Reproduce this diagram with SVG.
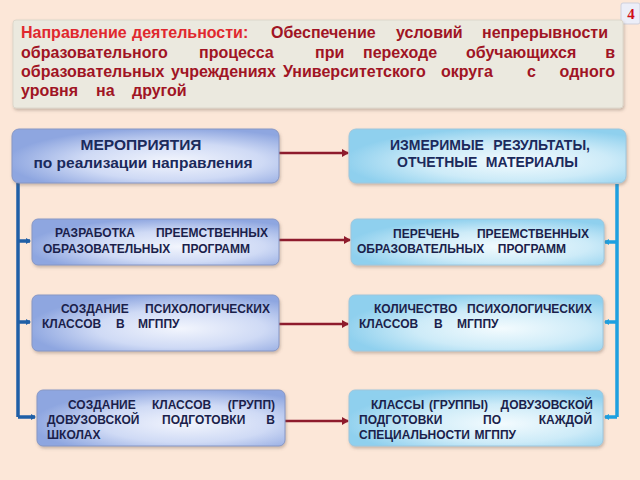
<svg xmlns="http://www.w3.org/2000/svg" width="640" height="480" viewBox="0 0 640 480">
<defs>
<radialGradient id="gL" cx="0.6" cy="0.6" r="0.62">
<stop offset="0" stop-color="#f2f5fd"/>
<stop offset="0.55" stop-color="#cfdaf5"/>
<stop offset="1" stop-color="#8ea6e0"/>
</radialGradient>
<radialGradient id="gR" cx="0.6" cy="0.6" r="0.62">
<stop offset="0" stop-color="#f3fbfe"/>
<stop offset="0.55" stop-color="#cdebf8"/>
<stop offset="1" stop-color="#8fd0ee"/>
</radialGradient>
<filter id="sh" x="-10%" y="-20%" width="120%" height="150%">
<feDropShadow dx="1" dy="2" stdDeviation="1.5" flood-color="#6a5a50" flood-opacity="0.35"/>
</filter>
<marker id="aR" markerWidth="8" markerHeight="8" refX="6" refY="4" orient="auto" markerUnits="userSpaceOnUse">
<path d="M0,0 L7,4 L0,8 Z" fill="#8e1b2c"/>
</marker>
<marker id="aB" markerWidth="6" markerHeight="6" refX="4" refY="3" orient="auto" markerUnits="userSpaceOnUse">
<path d="M0,0 L5,3 L0,6 Z" fill="#1f5fa6"/>
</marker>
<marker id="aC" markerWidth="6" markerHeight="6" refX="4" refY="3" orient="auto" markerUnits="userSpaceOnUse">
<path d="M0,0 L5,3 L0,6 Z" fill="#1ea0e0"/>
</marker>
</defs>
<style>
text{font-family:"Liberation Sans",Arial,sans-serif;font-weight:bold}
.tt{font-size:16px}
.r1{fill:#e0282e}
.r2{fill:#a01424}
.bx{font-size:12px;fill:#1b1f4b}
.hd{fill:#1b2a5c}
.bl{fill:url(#gL);stroke:#8797c4;stroke-width:1}
.br{fill:url(#gR);stroke:#9ec6dc;stroke-width:1}
.e{text-anchor:end}
.m{text-anchor:middle}
</style>
<rect width="640" height="480" fill="#fce7d8"/>

<g id="badge">
<rect x="621" y="3" width="19" height="21" rx="2" fill="#eceef8" stroke="#cfd0dc"/>
<text x="631" y="19" class="m" style="font-family:'Liberation Serif',serif" font-size="15" fill="#d01018">4</text>
</g>

<g id="title">
<rect x="13" y="20" width="610" height="88" rx="3" fill="#ebe9df" stroke="#dcd7cb" filter="url(#sh)"/>
<text class="tt" y="38"><tspan class="r1" x="21">Направление</tspan><tspan class="r1" x="132">деятельности:</tspan><tspan class="r2" x="271">Обеспечение</tspan><tspan class="r2" x="396">условий</tspan></text>
<text class="tt r2 e" x="608" y="38">непрерывности</text>
<text class="tt r2" y="58"><tspan x="21">образовательного</tspan><tspan x="199">процесса</tspan><tspan x="315">при</tspan><tspan x="363">переходе</tspan><tspan x="466">обучающихся</tspan></text>
<text class="tt r2 e" x="615" y="58">в</text>
<text class="tt r2" y="77"><tspan x="21">образовательных</tspan><tspan x="171">учреждениях</tspan><tspan x="283">Университетского</tspan><tspan x="441">округа</tspan><tspan x="527">с</tspan></text>
<text class="tt r2 e" x="615" y="77">одного</text>
<text class="tt r2" y="96"><tspan x="21">уровня</tspan><tspan x="96">на</tspan><tspan x="132">другой</tspan></text>
</g>

<g id="connectors" fill="none">
<path d="M18,183 V417 M18,241 H30 M18,322 H30 M18,417 H35" stroke="#1f5fa6" stroke-width="3.5"/>
<path d="M18,241 H30" stroke="#1f5fa6" stroke-width="2" marker-end="url(#aB)"/>
<path d="M18,322 H30" stroke="#1f5fa6" stroke-width="2" marker-end="url(#aB)"/>
<path d="M18,417 H35" stroke="#1f5fa6" stroke-width="2" marker-end="url(#aB)"/>
<path d="M617,184 V417 M617,242 H605 M617,322 H605 M617,417 H605" stroke="#1ea0e0" stroke-width="3.5"/>
<path d="M617,242 H605" stroke="#1ea0e0" stroke-width="2" marker-end="url(#aC)"/>
<path d="M617,322 H605" stroke="#1ea0e0" stroke-width="2" marker-end="url(#aC)"/>
<path d="M617,417 H605" stroke="#1ea0e0" stroke-width="2" marker-end="url(#aC)"/>
<path d="M279,153 H348" stroke="#8e1b2c" stroke-width="2.5" marker-end="url(#aR)"/>
<path d="M279,240 H350" stroke="#8e1b2c" stroke-width="2.5" marker-end="url(#aR)"/>
<path d="M279,324 H348" stroke="#8e1b2c" stroke-width="2.5" marker-end="url(#aR)"/>
<path d="M285,421 H348" stroke="#8e1b2c" stroke-width="2.5" marker-end="url(#aR)"/>
</g>

<g id="measures">
<rect class="bl" x="12" y="129" width="267" height="54" rx="7" filter="url(#sh)"/>
<text class="hd m" x="141" y="150" font-size="15.5">МЕРОПРИЯТИЯ</text>
<text class="hd m" x="143" y="168" font-size="15.5">по реализации направления</text>
</g>

<g id="results">
<rect class="br" x="349" y="129" width="277" height="54" rx="7" filter="url(#sh)"/>
<text class="hd" x="390" y="150" font-size="14">ИЗМЕРИМЫЕ</text>
<text class="hd e" x="590" y="150" font-size="14">РЕЗУЛЬТАТЫ,</text>
<text class="hd" x="397" y="167" font-size="14">ОТЧЕТНЫЕ</text>
<text class="hd e" x="578" y="167" font-size="14">МАТЕРИАЛЫ</text>
</g>

<g id="m1">
<rect class="bl" x="32" y="219" width="247" height="46" rx="6" filter="url(#sh)"/>
<text class="bx" x="55" y="237">РАЗРАБОТКА</text>
<text class="bx e" x="268" y="237">ПРЕЕМСТВЕННЫХ</text>
<text class="bx" x="43" y="253">ОБРАЗОВАТЕЛЬНЫХ</text>
<text class="bx e" x="250" y="253">ПРОГРАММ</text>
</g>

<g id="m2">
<rect class="bl" x="32" y="295" width="247" height="56" rx="6" filter="url(#sh)"/>
<text class="bx" x="61" y="313">СОЗДАНИЕ</text>
<text class="bx e" x="270" y="313">ПСИХОЛОГИЧЕСКИХ</text>
<text class="bx" x="42" y="328">КЛАССОВ</text>
<text class="bx" x="116" y="328">В</text>
<text class="bx" x="138" y="328">МГППУ</text>
</g>

<g id="m3">
<rect class="bl" x="37" y="390" width="248" height="56" rx="6" filter="url(#sh)"/>
<text class="bx" x="68" y="409">СОЗДАНИЕ</text>
<text class="bx" x="152" y="409">КЛАССОВ</text>
<text class="bx e" x="275" y="409">(ГРУПП)</text>
<text class="bx" x="47" y="424">ДОВУЗОВСКОЙ</text>
<text class="bx" x="162" y="424">ПОДГОТОВКИ</text>
<text class="bx e" x="275" y="424">В</text>
<text class="bx" x="47" y="439">ШКОЛАХ</text>
</g>

<g id="r1">
<rect class="br" x="351" y="219" width="253" height="46" rx="6" filter="url(#sh)"/>
<text class="bx" x="393" y="238">ПЕРЕЧЕНЬ</text>
<text class="bx e" x="589" y="238">ПРЕЕМСТВЕННЫХ</text>
<text class="bx" x="357" y="253">ОБРАЗОВАТЕЛЬНЫХ</text>
<text class="bx e" x="566" y="253">ПРОГРАММ</text>
</g>

<g id="r2">
<rect class="br" x="349" y="295" width="254" height="56" rx="6" filter="url(#sh)"/>
<text class="bx" x="374" y="313">КОЛИЧЕСТВО</text>
<text class="bx e" x="592" y="313">ПСИХОЛОГИЧЕСКИХ</text>
<text class="bx" x="359" y="328">КЛАССОВ</text>
<text class="bx" x="434" y="328">В</text>
<text class="bx" x="457" y="328">МГППУ</text>
</g>

<g id="r3">
<rect class="br" x="349" y="390" width="254" height="56" rx="6" filter="url(#sh)"/>
<text class="bx" x="371" y="409">КЛАССЫ</text>
<text class="bx" x="429" y="409">(ГРУППЫ)</text>
<text class="bx e" x="593" y="409">ДОВУЗОВСКОЙ</text>
<text class="bx" x="359" y="424">ПОДГОТОВКИ</text>
<text class="bx" x="483" y="424">ПО</text>
<text class="bx e" x="592" y="424">КАЖДОЙ</text>
<text class="bx" x="359" y="439">СПЕЦИАЛЬНОСТИ</text>
<text class="bx e" x="516" y="439">МГППУ</text>
</g>
</svg>
